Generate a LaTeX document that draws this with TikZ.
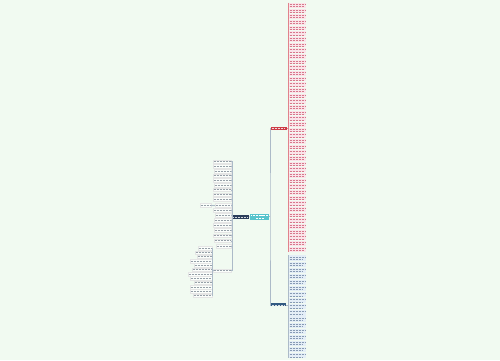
\documentclass[tikz,border=0pt]{standalone}
\definecolor{bgc}{RGB}{241,250,241}
\definecolor{cyanN}{RGB}{86,196,204}
\definecolor{navyN}{RGB}{44,62,92}
\definecolor{redN}{RGB}{204,60,70}
\definecolor{pinkF}{RGB}{250,228,233}
\definecolor{redT}{RGB}{215,120,140}
\definecolor{blueN}{RGB}{50,90,130}
\definecolor{blueF}{RGB}{228,238,247}
\definecolor{blueT}{RGB}{135,155,180}
\definecolor{greyT}{RGB}{150,160,168}
\definecolor{connC}{RGB}{172,186,200}
\definecolor{redC}{RGB}{225,130,140}
\begin{document}
\begin{tikzpicture}[x=1pt,y=-1pt,
  box/.style={rectangle, inner sep=0pt, draw=none},
  leafR/.style={box, fill=pinkF, minimum width=17.5pt, minimum height=4.8pt, anchor=west},
  leafB/.style={box, fill=blueF, minimum width=17.5pt, minimum height=5.2pt, anchor=west},
  leafL/.style={box, fill=white!75!bgc, draw=black!10, line width=0.2pt, minimum height=3.6pt, anchor=east},
  txtR/.style={redT, line width=0.5pt, dash pattern=on 1.1pt off 0.4pt},
  txtB/.style={blueT, line width=0.5pt, dash pattern=on 1.1pt off 0.4pt},
  txtL/.style={greyT, line width=0.5pt, dash pattern=on 1.1pt off 0.4pt},
  txtW/.style={white, line width=0.6pt, dash pattern=on 1.1pt off 0.35pt},
  conn/.style={connC, line width=0.4pt},
  rconn/.style={redC, line width=0.4pt}]
\fill[bgc] (0,0) rectangle (500,360);
\useasboundingbox (0,0) rectangle (500,360);

% center and main branches
\node[box, fill=cyanN, minimum width=19pt, minimum height=6pt] (c) at (259.5,216.5) {};
\draw[txtW] ([xshift=1.5pt,yshift=1.3pt]c.west) -- ([xshift=-1.5pt,yshift=1.3pt]c.east);
\draw[txtW] ([xshift=6pt,yshift=-1.3pt]c.west) -- ([xshift=-6pt,yshift=-1.3pt]c.east);

\node[box, fill=navyN, minimum width=16.5pt, minimum height=3.4pt] (L) at (240.8,217) {};
\draw[white!80!navyN, line width=0.5pt, dash pattern=on 1.1pt off 0.4pt] ([xshift=1pt]L.west) -- ([xshift=-1pt]L.east);

\node[box, fill=redN, minimum width=16pt, minimum height=3.4pt] (R) at (279,128.5) {};
\draw[white!80!redN, line width=0.5pt, dash pattern=on 1.1pt off 0.4pt] ([xshift=1pt]R.west) -- ([xshift=-2pt]R.east);

\node[box, fill=blueN, minimum width=15pt, minimum height=3.2pt] (B) at (278.5,304.8) {};
\draw[white!80!blueN, line width=0.5pt, dash pattern=on 1.1pt off 0.4pt] ([xshift=1pt]B.west) -- ([xshift=-1pt]B.east);

\coordinate (rb) at (270,216.5);
\draw[conn] (c.west) -- (L.east);
\draw[conn] (c.east) -- (rb);
\draw[conn] (R.west) -| (rb) |- (B.west);

% red leaves
\foreach \i in {1,...,44}{
  \pgfmathsetmacro{\yy}{5.3+(\i-1)*5.67}
  \node[leafR] (r\i) at (288.6,\yy) {};
  \draw[txtR] ([xshift=1pt,yshift=1.1pt]r\i.west) -- ([xshift=-1pt,yshift=1.1pt]r\i.east);
  \draw[txtR] ([xshift=1pt,yshift=-1.1pt]r\i.west) -- ([xshift=-3pt,yshift=-1.1pt]r\i.east);
}
\draw[rconn] (r1.north west) -- (r44.south west);
\coordinate (rs) at (288.6,128.5);
\draw[rconn] (R.east) -- (rs);

% blue leaves
\foreach \i in {1,...,17}{
  \pgfmathsetmacro{\yy}{258+(\i-1)*6.1}
  \node[leafB] (b\i) at (288.6,\yy) {};
  \draw[txtB] ([xshift=1pt,yshift=1.2pt]b\i.west) -- ([xshift=-1pt,yshift=1.2pt]b\i.east);
  \draw[txtB] ([xshift=1pt,yshift=-1.2pt]b\i.west) -- ([xshift=-4pt,yshift=-1.2pt]b\i.east);
}
\draw[conn] (b1.north west) -- (b17.south west);
\coordinate (bs) at (288.6,304.8);
\draw[conn] (B.east) -- (bs);

% left leaves
\foreach \i/\yy/\w in {1/161.5/18, 2/166.2/18, 3/170.9/17, 4/175.6/18, 5/180.3/18, 6/185/17, 7/189.7/18, 8/194.4/18, 9/199.1/18, 10/205/16, 11/210.3/18, 12/215.3/16, 13/220.3/17, 14/225.3/18, 15/230.3/17, 16/235.5/18, 17/240.7/17, 18/245.9/15, 19/270.5/18}{
  \node[leafL, minimum width=\w pt] (l\i) at (231,\yy) {};
  \draw[txtL] ([xshift=0.8pt]l\i.west) -- ([xshift=-0.8pt]l\i.east);
}
\coordinate (ls) at (232.2,217);
\draw[conn] (ls) -- (L.west);
\foreach \i in {1,...,19}{
  \draw[conn] (l\i.east) -| (ls);
}

% child of leaf 10
\node[leafL, minimum width=11pt] (m1) at (211,205) {};
\draw[txtL] ([xshift=0.8pt]m1.west) -- ([xshift=-0.8pt]m1.east);
\draw[conn] (m1.east) -- (l10.west);

% children of leaf 19
\foreach \i/\yy/\w in {1/248/14, 2/252.4/17, 3/256.6/15, 4/261/22, 5/265.3/18, 6/269.6/20, 7/273.9/24, 8/278.2/22, 9/282.5/18, 10/286.8/22, 11/291.1/22, 12/295.4/19}{
  \node[leafL, minimum width=\w pt] (k\i) at (212,\yy) {};
  \draw[txtL] ([xshift=0.8pt]k\i.west) -- ([xshift=-0.8pt]k\i.east);
}
\coordinate (ks) at (212.6,270.5);
\foreach \i in {1,...,12}{
  \draw[conn] (k\i.east) -| (ks);
}
\draw[conn] (ks) -- (l19.west);
\end{tikzpicture}
\end{document}
